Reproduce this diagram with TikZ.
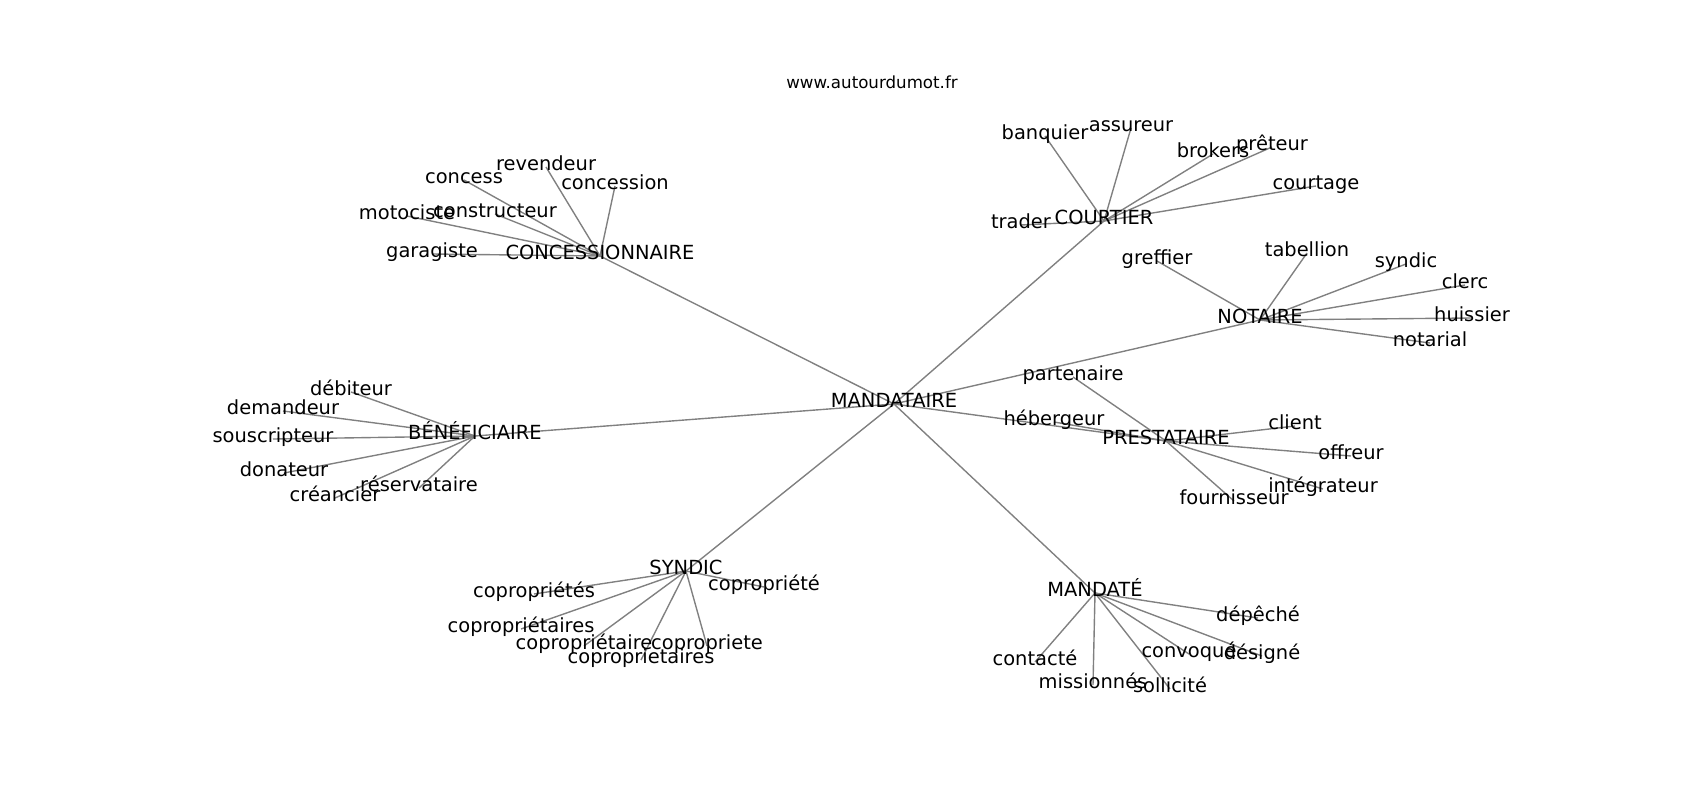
\documentclass[tikz,border=0pt]{standalone}
\usepackage{fontspec}
\setmainfont{DejaVu Sans}
\usepackage{tikz}
\usetikzlibrary{backgrounds}
\tikzstyle{word} = [inner sep=0pt, text height=0.76em, text depth=0.21em, font=\fontsize{14}{16}\selectfont]
\tikzstyle{link} = [draw=gray, line width=1pt]

\begin{document}
\begin{tikzpicture}[x=0.72pt,y=-0.72pt,every node/.style={word},every edge/.style={link}]
  \useasboundingbox (-1,-3) rectangle (1699,797);
  \node[font=\fontsize{12}{14}\selectfont] (title) at (871,82) {www.autourdumot.fr};

  % hubs
  \node (MAND) at (893,401) {MANDATAIRE};
  \node (CONC) at (599,253) {CONCESSIONNAIRE};
  \node (COUR) at (1103,218) {COURTIER};
  \node (NOT) at (1259,317) {NOTAIRE};
  \node (BEN) at (474,433) {BÉNÉFICIAIRE};
  \node (PREST) at (1165,438) {PRESTATAIRE};
  \node (SYN) at (685,568) {SYNDIC};
  \node (MDT) at (1094,590) {MANDATÉ};

  % concessionnaire
  \node (concess) at (463,177) {concess};
  \node (revendeur) at (545,164) {revendeur};
  \node (concession) at (614,183) {concession};
  \node (motociste) at (406,213) {motociste};
  \node (constructeur) at (494,211) {constructeur};
  \node (garagiste) at (431,251) {garagiste};

  % courtier
  \node (banquier) at (1044,133) {banquier};
  \node (assureur) at (1130,125) {assureur};
  \node (brokers) at (1212,151) {brokers};
  \node (preteur) at (1271,144) {prêteur};
  \node (courtage) at (1315,183) {courtage};
  \node (trader) at (1020,222) {trader};

  % notaire
  \node (greffier) at (1156,258) {greffier};
  \node (tabellion) at (1306,250) {tabellion};
  \node (syndic_n) at (1405,261) {syndic};
  \node (clerc) at (1464,282) {clerc};
  \node (huissier) at (1471,315) {huissier};
  \node (notarial) at (1429,340) {notarial};

  % beneficiaire
  \node (debiteur) at (350,389) {débiteur};
  \node (demandeur) at (282,408) {demandeur};
  \node (souscripteur) at (272,436) {souscripteur};
  \node (donateur) at (283,470) {donateur};
  \node (creancier) at (334,495) {créancier};
  \node (reservataire) at (418,485) {réservataire};

  % prestataire
  \node (partenaire) at (1072,374) {partenaire};
  \node (hebergeur) at (1053,419) {hébergeur};
  \node (client) at (1294,423) {client};
  \node (offreur) at (1350,453) {offreur};
  \node (integrateur) at (1322,486) {intégrateur};
  \node (fournisseur) at (1233,498) {fournisseur};

  % syndic
  \node (copro_s) at (533,591) {copropriétés};
  \node (copro_a) at (763,584) {copropriété};
  \node (copro_as) at (520,626) {copropriétaires};
  \node (copro_b) at (583,643) {copropriétaire};
  \node (copro_c) at (706,643) {copropriete};
  \node (copro_cs) at (640,657) {coproprietaires};

  % mandate
  \node (depeche) at (1257,615) {dépêché};
  \node (contacte) at (1034,659) {contacté};
  \node (convoque) at (1188,651) {convoqué};
  \node (designe) at (1261,653) {désigné};
  \node (missionnes) at (1092,682) {missionnés};
  \node (sollicite) at (1169,686) {sollicité};

  \begin{scope}[on background layer]
  \path (MAND.center) edge (CONC.center);
  \path (MAND.center) edge (COUR.center);
  \path (MAND.center) edge (NOT.center);
  \path (MAND.center) edge (BEN.center);
  \path (MAND.center) edge (PREST.center);
  \path (MAND.center) edge (SYN.center);
  \path (MAND.center) edge (MDT.center);

  \path (CONC.center) edge (concess.center);
  \path (CONC.center) edge (revendeur.center);
  \path (CONC.center) edge (concession.center);
  \path (CONC.center) edge (motociste.center);
  \path (CONC.center) edge (constructeur.center);
  \path (CONC.center) edge (garagiste.center);

  \path (COUR.center) edge (banquier.center);
  \path (COUR.center) edge (assureur.center);
  \path (COUR.center) edge (brokers.center);
  \path (COUR.center) edge (preteur.center);
  \path (COUR.center) edge (courtage.center);
  \path (COUR.center) edge (trader.center);

  \path (NOT.center) edge (greffier.center);
  \path (NOT.center) edge (tabellion.center);
  \path (NOT.center) edge (syndic_n.center);
  \path (NOT.center) edge (clerc.center);
  \path (NOT.center) edge (huissier.center);
  \path (NOT.center) edge (notarial.center);

  \path (BEN.center) edge (debiteur.center);
  \path (BEN.center) edge (demandeur.center);
  \path (BEN.center) edge (souscripteur.center);
  \path (BEN.center) edge (donateur.center);
  \path (BEN.center) edge (creancier.center);
  \path (BEN.center) edge (reservataire.center);

  \path (PREST.center) edge (partenaire.center);
  \path (PREST.center) edge (hebergeur.center);
  \path (PREST.center) edge (client.center);
  \path (PREST.center) edge (offreur.center);
  \path (PREST.center) edge (integrateur.center);
  \path (PREST.center) edge (fournisseur.center);

  \path (SYN.center) edge (copro_s.center);
  \path (SYN.center) edge (copro_a.center);
  \path (SYN.center) edge (copro_as.center);
  \path (SYN.center) edge (copro_b.center);
  \path (SYN.center) edge (copro_c.center);
  \path (SYN.center) edge (copro_cs.center);

  \path (MDT.center) edge (depeche.center);
  \path (MDT.center) edge (contacte.center);
  \path (MDT.center) edge (convoque.center);
  \path (MDT.center) edge (designe.center);
  \path (MDT.center) edge (missionnes.center);
  \path (MDT.center) edge (sollicite.center);
  \end{scope}
\end{tikzpicture}
\end{document}
